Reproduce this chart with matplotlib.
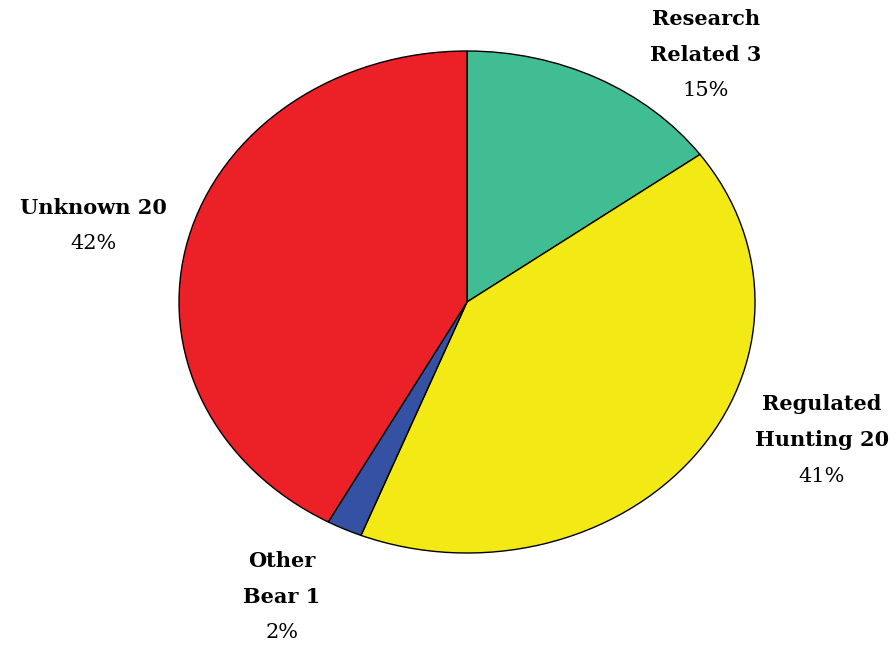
import matplotlib.pyplot as plt

# slice shares (percent), clockwise from 12 o'clock
names = [["Research", "Related 3"], ["Regulated", "Hunting 20"], ["Other", "Bear 1"], ["Unknown 20"]]
shares = [15, 41, 2, 42]
colors = ["#41BD93", "#F3E915", "#3451A3", "#EC2127"]

W, H = 896, 646
fig = plt.figure(figsize=(W / 100, H / 100), dpi=100)
# ellipse: centre (467, 302) px from top-left, radii 288 x 252 px
cx, cy, rx, ry = 467, 302, 288, 251
ax = fig.add_axes([(cx - rx) / W, (H - cy - ry) / H, 2 * rx / W, 2 * ry / H])

wedges, _ = ax.pie(shares, colors=colors, startangle=90, counterclock=False,
                   wedgeprops=dict(edgecolor="black", linewidth=1.0))
ax.set_aspect("auto")
ax.set_xlim(-1, 1)
ax.set_ylim(-1, 1)
ax.axis("off")

# label anchors in pixels (x centre, y of first line)
label_pos = [(706, 19), (822, 404), (282, 561), (93, 208)]
step = 36
font = "DejaVu Serif"
for lines, pct, (lx, ly) in zip(names, shares, label_pos):
    for i, line in enumerate(lines):
        fig.text(lx / W, 1 - (ly + step * i) / H, line, ha="center", va="center",
                 fontsize=15, fontweight="bold", family=font)
    fig.text(lx / W, 1 - (ly + step * len(lines)) / H, f"{pct}%", ha="center",
             va="center", fontsize=15, family=font)

fig.savefig("out.png", dpi=100)
